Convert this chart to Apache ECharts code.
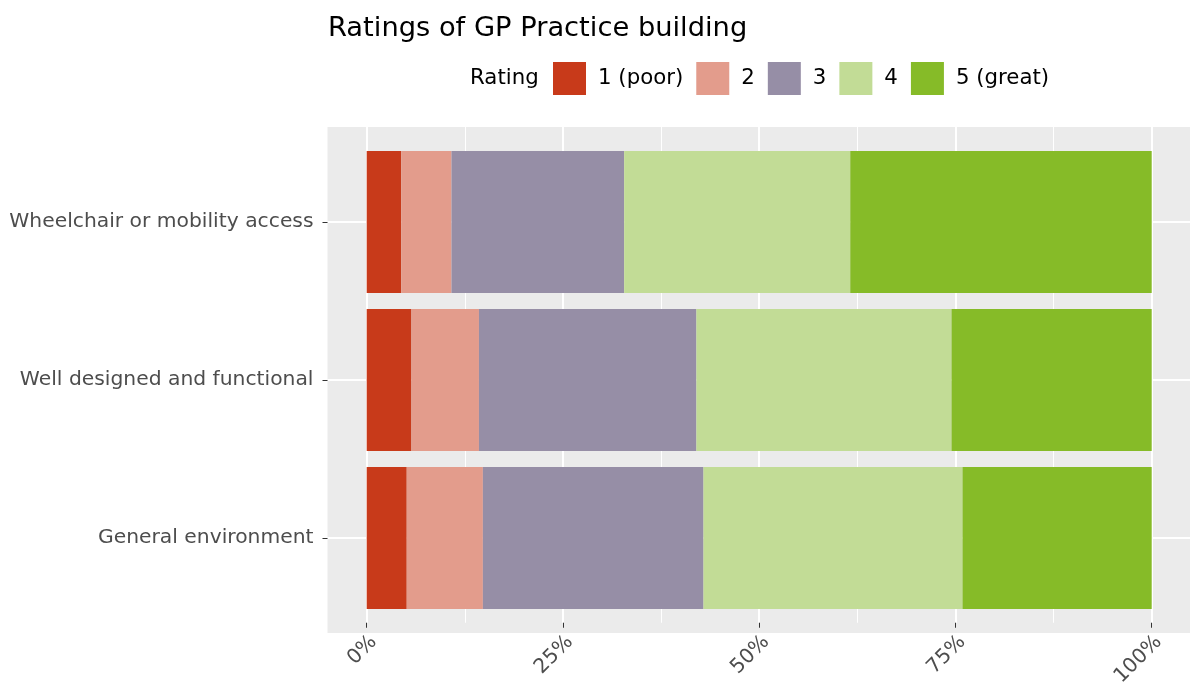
<!DOCTYPE html>
<html>
<head>
<meta charset="utf-8">
<script src="https://cdn.jsdelivr.net/npm/echarts@6/dist/echarts.min.js"></script>
<style>
  html, body { margin: 0; padding: 0; background: #fff; }
  #chart { width: 1190px; height: 689px; }
</style>
</head>
<body>
<div id="chart"></div>
<script>
// categories from top to bottom
var categories = ['Wheelchair or mobility access', 'Well designed and functional', 'General environment'];
var ratingNames = ['1 (poor)', '2', '3', '4', '5 (great)'];
var ratingColors = ['#C83A1A', '#E39C8C', '#968EA6', '#C2DC96', '#86BB28'];

// percentage of responses per category
var rating1 = [4.4, 5.7, 5.1];
var rating2 = [6.4, 8.6, 9.7];
var rating3 = [22.0, 27.7, 28.1];
var rating4 = [28.8, 32.5, 33.0];
var rating5 = [38.4, 25.5, 24.1];
var ratingValues = [rating1, rating2, rating3, rating4, rating5];

var xTicks = [0, 25, 50, 75, 100];

var chart = echarts.init(document.getElementById('chart'));

var seriesList = ratingNames.map(function (name, i) {
    return {
        name: name,
        type: 'bar',
        stack: 'total',
        xAxisIndex: 0,
        yAxisIndex: 0,
        barCategoryGap: '10%',
        itemStyle: { color: ratingColors[i] },
        data: ratingValues[i]
    };
});

var option = {
    animation: false,
    textStyle: { fontFamily: 'DejaVu Sans' },
    title: {
        text: 'Ratings of GP Practice building',
        left: 328,
        top: 15,
        padding: 0,
        textStyle: { fontSize: 27.3, fontWeight: 'normal', color: '#000' }
    },
    legend: {
        data: ratingNames,
        left: 553,
        top: 62,
        padding: 0,
        icon: 'rect',
        itemWidth: 33,
        itemHeight: 33,
        itemGap: 13,
        textStyle: { fontSize: 21.3, color: '#000', padding: [0, 0, 0, 7] }
    },
    graphic: [{
        type: 'text',
        x: 470,
        y: 78,
        style: { text: 'Rating', fontSize: 21.3, fill: '#000', verticalAlign: 'middle', fontFamily: 'DejaVu Sans' }
    }],
    grid: [
        // bars
        { left: 366.7, width: 785, top: 143, height: 474 },
        // vertical grid lines + x axis
        { left: 366.7, width: 785, top: 127, height: 506 },
        // horizontal grid lines through category centres
        { left: 327.5, width: 863.5, top: 222, height: 316 },
        // panel background
        { left: 327.5, width: 863.5, top: 127, height: 506, show: true, backgroundColor: '#EBEBEB', borderWidth: 0, z: -5 },
        // y axis labels and ticks at the panel edge
        { left: 327.5, width: 863.5, top: 143, height: 474 }
    ],
    xAxis: [
        { gridIndex: 0, type: 'value', min: 0, max: 100, show: false },
        {
            gridIndex: 1, type: 'value', min: 0, max: 100, interval: 25,
            axisLine: { show: false },
            axisTick: { show: true, length: 5, lineStyle: { color: '#333', width: 1 } },
            axisLabel: {
                rotate: 45, margin: 9, fontSize: 20.3, color: '#4D4D4D', verticalAlign: 'top',
                formatter: function (v) { return xTicks.indexOf(v) >= 0 ? v + '%' : ''; }
            },
            splitLine: { show: true, lineStyle: { color: '#fff', width: 2 } },
            minorTick: { show: false, splitNumber: 2 },
            minorSplitLine: { show: true, lineStyle: { color: '#fff', width: 1 } }
        },
        { gridIndex: 2, type: 'value', min: 0, max: 1, show: false },
        { gridIndex: 3, type: 'value', min: 0, max: 1, show: false },
        { gridIndex: 4, type: 'value', min: 0, max: 1, show: false }
    ],
    yAxis: [
        { gridIndex: 0, type: 'category', data: categories, inverse: true, show: false },
        { gridIndex: 1, type: 'value', min: 0, max: 1, show: false },
        {
            gridIndex: 2, type: 'value', min: 0, max: 2, interval: 1,
            axisLine: { show: false },
            axisTick: { show: false },
            axisLabel: { show: false },
            splitLine: { show: true, lineStyle: { color: '#fff', width: 2 } }
        },
        { gridIndex: 3, type: 'value', min: 0, max: 1, show: false },
        {
            gridIndex: 4, type: 'category', data: categories, inverse: true,
            axisLine: { show: false },
            axisTick: { show: true, alignWithLabel: true, length: 5, lineStyle: { color: '#333', width: 1 } },
            axisLabel: { margin: 14, fontSize: 20.3, color: '#4D4D4D' },
            splitLine: { show: false }
        }
    ],
    series: seriesList
};

chart.setOption(option);
</script>
</body>
</html>
